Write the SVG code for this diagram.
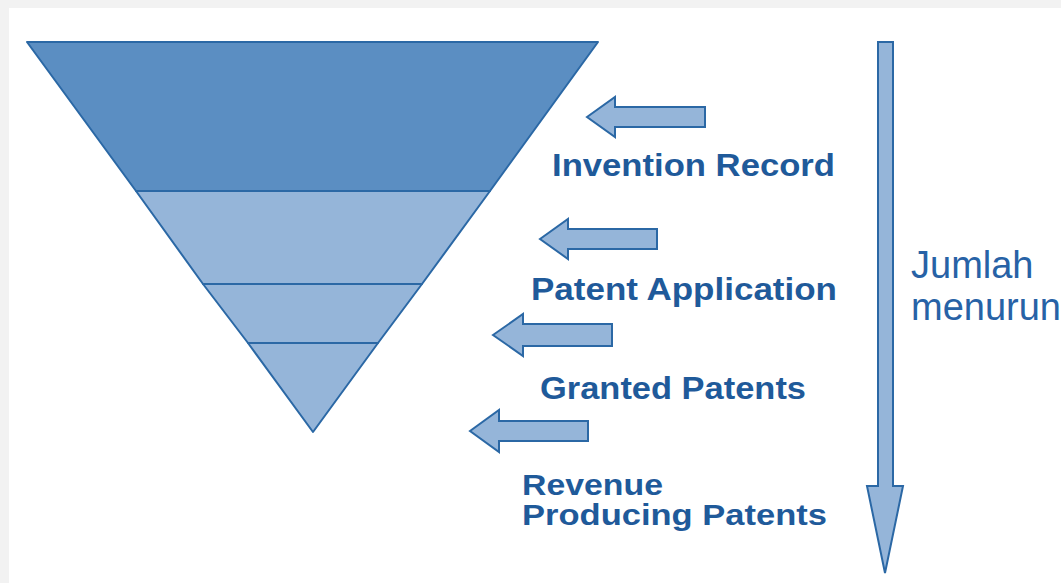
<svg xmlns="http://www.w3.org/2000/svg" width="1061" height="583" viewBox="0 0 1061 583">
<style>
.bg{fill:#f2f2f2}
.panel{fill:#ffffff}
.dark{fill:#5b8ec2;stroke:#2b68a5;stroke-width:2;stroke-linejoin:round}
.light{fill:#95b5d9;stroke:#2b68a5;stroke-width:2;stroke-linejoin:round}
.arr{fill:#95b5d9;stroke:#2b68a5;stroke-width:2;stroke-linejoin:miter}
.lbl{font-family:"Liberation Sans",Arial,sans-serif;font-weight:bold;font-size:32px;fill:#1f5a9a}
.lbl2{font-family:"Liberation Sans",Arial,sans-serif;font-weight:bold;font-size:30px;fill:#1f5a9a}
.side{font-family:"Liberation Sans",Arial,sans-serif;font-size:38px;fill:#2762a6}
</style>
<rect class="bg" x="0" y="0" width="1061" height="583"/>
<rect class="panel" x="9" y="8" width="1052" height="575"/>
<g id="funnel">
<g id="layer-invention"><polygon class="dark" points="27,42 598,42 490,191 136,191"/></g>
<g id="layer-application"><polygon class="light" points="136,191 490,191 422,284 203,284"/></g>
<g id="layer-granted"><polygon class="light" points="203,284 422,284 378,343 248,343"/></g>
<g id="layer-revenue"><polygon class="light" points="248,343 378,343 313,432"/></g>
</g>
<g id="connectors">
<polygon class="arr" points="587,117 615,97 615,107 705,107 705,127 615,127 615,137"/>
<polygon class="arr" points="540,239 568,219 568,229 657,229 657,249 568,249 568,259"/>
<polygon class="arr" points="493,335 523,314 523,324 612,324 612,346 523,346 523,356"/>
<polygon class="arr" points="470,431 499,410 499,421 588,421 588,441 499,441 499,452"/>
</g>
<g id="label-invention"><text class="lbl" x="552" y="176" textLength="283" lengthAdjust="spacingAndGlyphs">Invention Record</text></g>
<g id="label-application"><text class="lbl" x="531" y="300" textLength="306" lengthAdjust="spacingAndGlyphs">Patent Application</text></g>
<g id="label-granted"><text class="lbl" x="540" y="399" textLength="266" lengthAdjust="spacingAndGlyphs">Granted Patents</text></g>
<g id="label-revenue"><text class="lbl2" x="522" y="495" textLength="141" lengthAdjust="spacingAndGlyphs">Revenue</text><text class="lbl2" x="522" y="525" textLength="305" lengthAdjust="spacingAndGlyphs">Producing Patents</text></g>
<g id="trend">
<polygon class="arr" points="878,42 893,42 893,486 903,486 885,573 867,486 878,486"/>
<text class="side" x="911" y="278">Jumlah</text>
<text class="side" x="911" y="320">menurun</text>
</g>
</svg>
